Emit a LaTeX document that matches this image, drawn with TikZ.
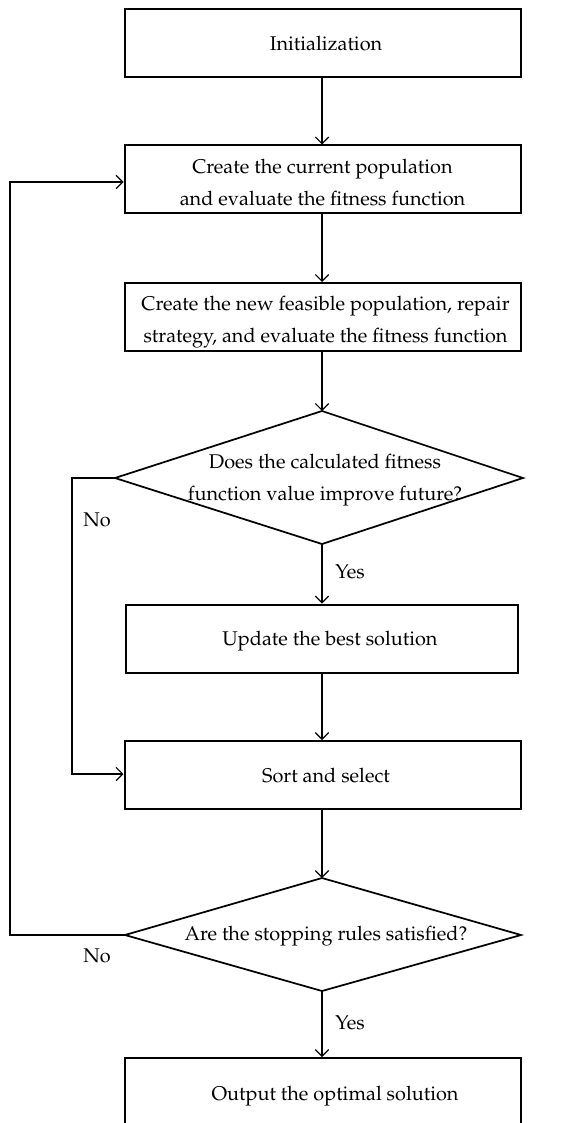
\documentclass[tikz,border=0pt]{standalone}
\usepackage[T1]{fontenc}
\usepackage{mathpazo}
\usetikzlibrary{arrows.meta}
\begin{document}
\begin{tikzpicture}[x=0.75pt,y=-0.75pt,
  every node/.style={font=\fontsize{14.9}{24}\selectfont},
  box/.style={draw, line width=1.5pt, minimum width=297pt, minimum height=51pt, inner sep=0pt, align=center},
  txt/.style={inner sep=0pt, align=center},
  dia/.style={line width=1.3pt, line join=miter},
  conn/.style={line width=0.9pt, -{Straight Barb[length=5pt,width=10pt,line width=0.9pt]}},
  loop/.style={line width=1.3pt, -{Straight Barb[length=5pt,width=10pt,line width=0.9pt]}},
  lbl/.style={inner sep=0pt}
]
\useasboundingbox (0,0) rectangle (571,1123);
\clip (0,0) rectangle (571,1123);

\node[box] (init) at (322.5,43.5) {};
\node[txt] at (326,44) {Initialization};
\node[box] (cur) at (322.5,179.5) {};
\node[txt] at (322.5,183) {Create the current population\\and evaluate the fitness function};
\node[box] (new) at (322.5,317) {};
\node[txt] at (325.5,322) {Create the new feasible population, repair\\strategy, and evaluate the fitness function};

% decision 1
\coordinate (d1n) at (322,411);
\coordinate (d1e) at (523,478);
\coordinate (d1s) at (322,544);
\coordinate (d1w) at (115,478);
\draw[dia] (d1n) -- (d1e) -- (d1s) -- (d1w) -- cycle;
\node[txt] (d1) at (325,480) {Does the calculated fitness\\function value improve future?};

\node[box, minimum width=294pt] (upd) at (322,638.5) {};
\node[txt] at (330,641) {Update the best solution};
\node[box] (sort) at (322.5,775) {};
\node[txt] at (326,776) {Sort and select};

% decision 2
\coordinate (d2n) at (322,878);
\coordinate (d2e) at (521,935);
\coordinate (d2s) at (322,991);
\coordinate (d2w) at (125,935);
\draw[dia] (d2n) -- (d2e) -- (d2s) -- (d2w) -- cycle;
\node[txt] (d2) at (326,936) {Are the stopping rules satisfied?};

\node[box] (out) at (322.5,1092) {};
\node[txt] (outt) at (335,1096) {Output the optimal solution};

% connectors
\draw[conn] (init.south -| d1n) -- (cur.north -| d1n);
\draw[conn] (cur.south -| d1n) -- (new.north -| d1n);
\draw[conn] (new.south -| d1n) -- (d1n);
\draw[conn] (d1s) -- (upd.north -| d1n);
\draw[conn] (upd.south -| d1n) -- (sort.north -| d1n);
\draw[conn] (sort.south -| d1n) -- (d2n);
\draw[conn] (d2s) -- (out.north -| d1n);

\coordinate (c1) at (72,478);
\coordinate (c2) at (72,774);
\draw[loop] (d1w) -- (c1) -- (c2) -- (sort.west |- c2);

\coordinate (c3) at (10,935);
\coordinate (c4) at (10,182);
\draw[loop] (d2w) -- (c3) -- (c4) -- (cur.west |- c4);

\node[lbl] (no1) at (97,520) {No};
\node[lbl] (yes1) at (350,572) {Yes};
\node[lbl] (no2) at (97,956) {No};
\node[lbl] (yes2) at (350,1023) {Yes};
\end{tikzpicture}
\end{document}
